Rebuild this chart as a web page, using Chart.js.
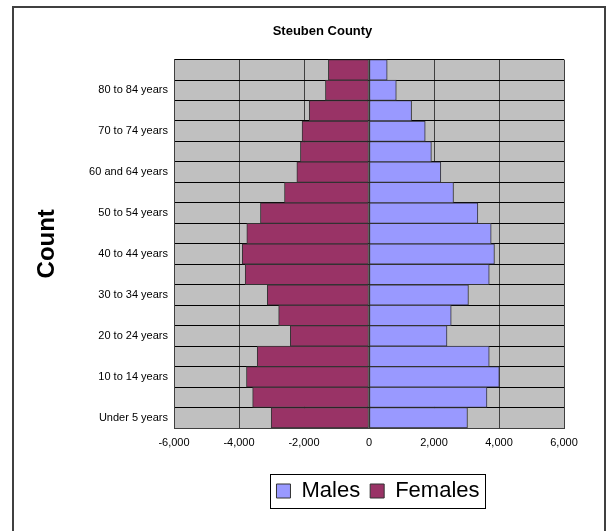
<!DOCTYPE html>
<html>
<head>
<meta charset="utf-8">
<title>Steuben County</title>
<script src="https://cdn.jsdelivr.net/npm/chart.js@4"></script>
<style>
  body { margin: 0; background: #fff; }
  canvas { display: block; }
</style>
</head>
<body>
<canvas id="pyramid" width="607" height="531"></canvas>
<script>
// age groups, bottom to top
const ageGroups = [
  "Under 5 years", "5 to 9 years", "10 to 14 years", "15 to 19 years",
  "20 to 24 years", "25 to 29 years", "30 to 34 years", "35 to 39 years",
  "40 to 44 years", "45 to 49 years", "50 to 54 years", "55 to 59 years",
  "60 and 64 years", "65 to 69 years", "70 to 74 years", "75 to 79 years",
  "80 to 84 years", "85 years and over",
];

const males = [
  3030, 3630, 4010, 3700, 2400, 2530, 3060, 3700, 3860,
  3760, 3350, 2600, 2210, 1920, 1730, 1310, 840, 560,
];

// females go to the left, so negative
const females = [
  -3010, -3580, -3770, -3440, -2420, -2780, -3130, -3810, -3900,
  -3760, -3340, -2600, -2220, -2110, -2060, -1840, -1340, -1250,
];

const xTickValues = [-6000, -4000, -2000, 0, 2000, 4000, 6000];

Chart.defaults.font.family = "'Liberation Sans', Arial, sans-serif";
Chart.defaults.color = "#000";

// grey plot area + outer frame + box round the legend
const chartDecor = {
  id: "chartDecor",
  beforeDraw(chart) {
    const c = chart.ctx;
    const a = chart.chartArea;
    c.save();
    c.fillStyle = "#C0C0C0";
    c.fillRect(a.left, a.top, a.right - a.left, a.bottom - a.top);
    c.restore();
  },
  afterLayout(chart) {
    // nudge title and legend where the original has them
    chart.titleBlock.left += 34;
    chart.titleBlock.right += 34;
    chart.legend.left += 9;
    chart.legend.right += 9;
  },
  afterDraw(chart) {
    const c = chart.ctx;
    c.save();
    c.strokeStyle = "#404040";
    c.lineWidth = 2;
    c.strokeRect(13, 7, 592, 540);

    const boxes = chart.legend.legendHitBoxes;
    if (boxes && boxes.length) {
      const first = boxes[0];
      const last = boxes[boxes.length - 1];
      c.lineWidth = 1;
      c.strokeStyle = "#000";
      c.strokeRect(
        Math.round(first.left - 6) + 0.5,
        Math.round(first.top - 6) + 0.5,
        Math.round(last.left + last.width - first.left + 12),
        Math.round(first.height + 12)
      );
    }
    c.restore();
  },
};

const ctx = document.getElementById("pyramid");

new Chart(ctx, {
  type: "bar",
  data: {
    labels: ageGroups,
    datasets: [
      {
        label: "Males",
        data: males,
        backgroundColor: "#9999FF",
        borderColor: "#333333",
        borderWidth: 1,
        borderSkipped: false,
      },
      {
        label: "Females",
        data: females,
        backgroundColor: "#993366",
        borderColor: "#333333",
        borderWidth: 1,
        borderSkipped: false,
      },
    ],
  },
  options: {
    indexAxis: "y",
    responsive: false,
    animation: false,
    barPercentage: 1,
    categoryPercentage: 1,
    layout: {
      padding: { top: 0, left: 13, right: 43, bottom: 19 },
    },
    scales: {
      x: {
        stacked: true,
        min: -6000,
        max: 6000,
        afterBuildTicks(scale) {
          scale.ticks = xTickValues.map((v) => ({ value: v }));
        },
        afterFit(scale) {
          scale.height = 42;
        },
        grid: {
          color: "#404040",
          drawTicks: false,
        },
        border: { color: "#404040" },
        ticks: {
          padding: 8,
          font: { size: 11 },
          color: "#000",
          callback: (v) => v.toLocaleString("en-US"),
        },
      },
      y: {
        stacked: true,
        reverse: true,
        afterFit(scale) {
          scale.width = 161;
        },
        grid: {
          color: "#000",
          drawTicks: false,
          offset: true,
        },
        border: { color: "#404040" },
        title: {
          display: true,
          text: "Count",
          font: { size: 24, weight: "bold" },
          padding: { top: 20, bottom: 0 },
          color: "#000",
        },
        ticks: {
          autoSkip: false,
          padding: 6,
          font: { size: 11 },
          color: "#000",
          callback: function (value, index) {
            return index % 2 === 0 ? this.getLabelForValue(value) : "";
          },
        },
      },
    },
    plugins: {
      title: {
        display: true,
        text: "Steuben County",
        color: "#000",
        font: { size: 13, weight: "bold" },
        padding: { top: 24, bottom: 20 },
      },
      legend: {
        position: "bottom",
        fullSize: false,
        labels: {
          color: "#000",
          boxWidth: 14,
          boxHeight: 14,
          padding: 10,
          font: { size: 22 },
        },
      },
      tooltip: { enabled: false },
    },
  },
  plugins: [chartDecor],
});
</script>
</body>
</html>
